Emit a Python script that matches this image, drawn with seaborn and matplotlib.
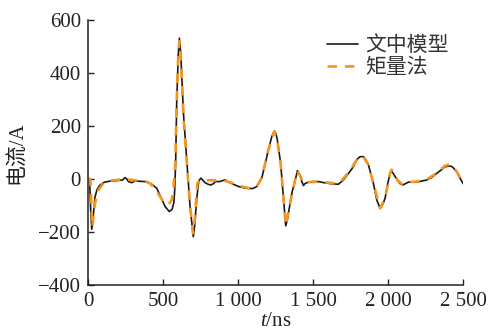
import matplotlib
matplotlib.use("Agg")
import matplotlib.pyplot as plt
import seaborn as sns
import pandas as pd

# ---- data ----
t_model = [0, 10, 18, 25, 35, 47, 60, 80, 110, 150, 200, 230, 247, 258, 269, 291, 313, 350, 380,
           420, 458, 490, 515, 542, 560, 572, 577, 584, 591, 602, 609, 618, 636, 658, 680, 702,
           712, 724, 735, 742, 753, 765, 780, 800, 818, 835, 850, 876, 900, 913, 930, 969, 1000,
           1036, 1070, 1100, 1124, 1140, 1158, 1180, 1202, 1225, 1242, 1252, 1262, 1284, 1302,
           1318, 1330, 1347, 1362, 1376, 1396, 1413, 1425, 1436, 1445, 1469, 1500, 1536, 1580,
           1620, 1669, 1702, 1735, 1769, 1790, 1813, 1836, 1852, 1869, 1885, 1902, 1925, 1947,
           1965, 1980, 1997, 2013, 2024, 2047, 2062, 2080, 2098, 2115, 2136, 2191, 2258, 2290,
           2324, 2350, 2380, 2413, 2430, 2447, 2465, 2480, 2500]
i_model = [0, 0, -120, -190, -140, -67, -40, -23, -12, -8, -6, -4, 5, 0, -10, -14, -8, -9, -10,
           -18, -35, -75, -105, -123, -115, -90, -50, 60, 286, 474, 531, 474, 248, 72, -104, -218,
           -170, -79, -20, -4, 3, -5, -14, -20, -23, -18, -10, -10, -6, -3, -10, -20, -28,
           -33, -36, -36, -29, -15, 3, 55, 109, 160, 181, 172, 147, 59, -67,
           -177, -150, -92, -45, -16, 31, 15, -10, -25, -18, -12, -10, -10, -15,
           -18, -20, -4, 20, 46, 72, 84, 84, 72, 53, 20, -16, -80, -111,
           -95, -73, -20, 21, 30, 9, -4, -18, -23, -18, -12, -12, -4, 5,
           21, 32, 46, 49, 45, 34, 20, 3, -18]

t_mom = [0, 15, 20, 29, 38, 47, 69, 102, 158, 236, 280, 324, 391, 420, 458, 490, 513, 529, 545,
         558, 570, 582, 591, 602, 609, 618, 636, 658, 680, 700, 712, 729, 747, 800, 876, 920,
         960, 1000, 1036, 1090, 1124, 1158, 1202, 1242, 1262, 1284, 1302, 1318, 1347, 1376,
         1396, 1413, 1436, 1469, 1536, 1600, 1669, 1700, 1747, 1791, 1831, 1869, 1902, 1947,
         1980, 2013, 2024, 2047, 2062, 2098, 2136, 2191, 2258, 2324, 2380, 2413, 2447, 2480, 2500]
i_mom = [0, 0, -60, -182, -130, -92, -42, -16, -6, -1, -3, -6, -10, -20, -48, -75, -92, -98, -90,
         -79, -30, 60, 290, 470, 520, 470, 240, 65, -100, -205, -150, -16, -4, -5, -6, -8,
         -15, -25, -30, -37, -30, 5, 110, 180, 145, 58, -65, -175, -92, -14,
         30, 12, -16, -12, -10, -14, -18, 0, 32, 72, 87, 53, -16, -111,
         -73, 22, 35, 12, -4, -22, -12, -10, -2, 22, 50, 55, 38, 5, -18]

series_names = ["文中模型", "矩量法"]
x_ticks = [0, 500, 1000, 1500, 2000, 2500]
x_ticklabels = ["0", "500", "1 000", "1 500", "2 000", "2 500"]
y_ticks = [-400, -200, 0, 200, 400, 600]
y_ticklabels = ["\u2212400", "\u2212200", "0", "200", "400", "600"]

# ---- style ----
sns.set_style("ticks")
plt.rcParams["font.family"] = ["Liberation Serif", "Noto Sans CJK SC", "DejaVu Sans"]
plt.rcParams["mathtext.fontset"] = "custom"
plt.rcParams["mathtext.it"] = "Liberation Serif:italic"
plt.rcParams["mathtext.rm"] = "Liberation Serif"

fig = plt.figure(figsize=(4.89, 3.31), dpi=100)
ax = fig.add_axes([0.18, 0.139, 0.767, 0.801])

sns.lineplot(x=t_model, y=i_model, ax=ax, color="#1a1a1a", linewidth=1.2,
             label=series_names[0], sort=False, estimator=None)
sns.lineplot(x=t_mom, y=i_mom, ax=ax, color="#f7941d", linewidth=1.9,
             linestyle=(0, (3.6, 3.0)), label=series_names[1], sort=False, estimator=None)

ax.set_xlim(0, 2500)
ax.set_ylim(-400, 600)
ax.set_xticks(x_ticks)
ax.set_xticklabels(x_ticklabels)
ax.set_yticks(y_ticks)
ax.set_yticklabels(y_ticklabels)
ax.tick_params(direction="in", length=4, width=1.0, labelsize=15, colors="#222222", pad=5)
for s in ["top", "right"]:
    ax.spines[s].set_visible(False)
for s in ["left", "bottom"]:
    ax.spines[s].set_linewidth(1.1)
    ax.spines[s].set_color("#222222")

ax.set_xlabel("$t$/ns", fontsize=15, color="#222222", labelpad=1)
ax.set_ylabel("电流/A", fontsize=15, color="#222222", labelpad=8)

leg = ax.legend(loc="upper right", frameon=False, fontsize=15, handlelength=1.5,
                handletextpad=0.35, labelspacing=0.1, borderaxespad=0.2,
                bbox_to_anchor=(0.995, 0.985))
for txt in leg.get_texts():
    txt.set_color("#333333")

fig.savefig("out.png", dpi=100)
